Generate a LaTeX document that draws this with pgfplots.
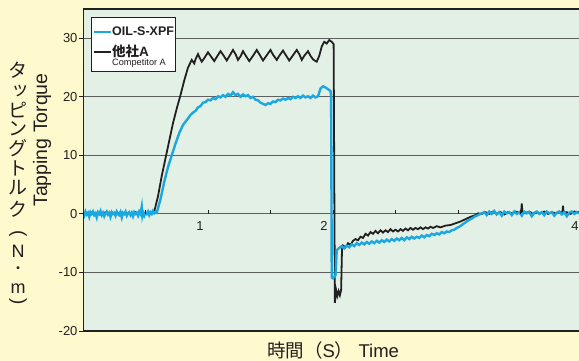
\documentclass[border=0pt]{standalone}
\usepackage{fontspec}
\setmainfont{Liberation Sans}
\newfontfamily\cjk{Noto Sans CJK JP}
\usepackage{graphicx}
\usepackage{pgfplots}
\pgfplotsset{compat=1.18}
\definecolor{bgy}{RGB}{255,249,206}
\definecolor{plotbg}{RGB}{226,240,229}
\definecolor{cyanl}{RGB}{27,167,224}
\definecolor{blk}{RGB}{35,31,32}
\definecolor{gridc}{RGB}{95,95,95}
\begin{document}
\begin{tikzpicture}
\path[use as bounding box] (0,0) rectangle (579pt,361pt);
\fill[bgy] (0,0) rectangle (579pt,361pt);
\begin{axis}[
 at={(83pt,30pt)}, anchor=south west,
 scale only axis, width=496pt, height=322pt,
 xmin=0, xmax=3.968, ymin=-20, ymax=35,
 axis background/.style={fill=plotbg},
 axis line style={draw=none},
 xtick=\empty,
 ytick={-20,-10,0,10,20,30},
 ytick pos=left,
 ymajorgrids, grid style={gridc, line width=0.9pt},
 tick style={draw=blk, line width=0.9pt},
 major tick length=4pt,
 tick align=outside,
 yticklabel style={font=\fontsize{13}{15}\selectfont, text=blk, xshift=2pt},
 /pgf/number format/assume math mode=true,
 clip mode=individual,
]
\addplot[blk, line width=1.8pt] coordinates {
(0.00,0.2) (0.03,-0.1) (0.06,0.3) (0.09,0.0) (0.12,0.2) (0.15,-0.2) (0.18,0.3) (0.21,0.0) (0.24,0.2) (0.27,-0.1)
(0.30,0.3) (0.33,0.0) (0.36,0.2) (0.39,-0.2) (0.42,0.3) (0.45,0.0) (0.48,0.2) (0.51,0.1) (0.54,0.3) (0.57,0.4)
(0.60,3.0) (0.63,6.5) (0.66,9.5) (0.69,12.5) (0.72,15.5) (0.75,18.0) (0.78,20.3) (0.81,22.8) (0.84,25.0)
(0.87,26.3) (0.89,25.7) (0.90,26.4) (0.92,27.3) (0.93,26.8) (0.95,26.0) (0.97,26.6) (1.00,27.6) (1.02,27.0)
(1.05,26.1) (1.07,26.8) (1.10,27.8) (1.12,27.2) (1.15,26.2) (1.17,26.9) (1.20,28.0) (1.22,27.3) (1.24,26.3)
(1.26,26.9) (1.28,27.8) (1.30,27.1) (1.33,26.1) (1.36,27.0) (1.39,28.0) (1.41,27.3) (1.44,26.2) (1.47,27.1)
(1.50,28.0) (1.52,27.2) (1.55,26.3) (1.57,27.0) (1.60,27.9) (1.62,27.2) (1.65,26.2) (1.68,27.1) (1.71,28.0)
(1.73,27.3) (1.75,26.3) (1.77,27.0) (1.80,27.8) (1.82,27.0) (1.84,26.4) (1.86,26.1) (1.87,26.0) (1.89,27.0)
(1.91,28.6) (1.93,29.4) (1.95,29.1) (1.97,29.7) (1.99,29.4) (2.005,29.0)
(2.015,-15.2) (2.025,-13.0) (2.035,-14.0) (2.045,-13.2) (2.055,-13.9) (2.065,-13.0) (2.072,-6.0)
(2.08,-5.4) (2.10,-5.7) (2.12,-5.0) (2.14,-5.3) (2.16,-4.6) (2.18,-4.3) (2.20,-4.5) (2.22,-3.9) (2.24,-4.1)
(2.26,-3.4) (2.28,-3.7) (2.30,-3.1) (2.32,-3.4) (2.34,-2.9) (2.36,-3.3) (2.38,-2.8) (2.40,-3.2) (2.42,-2.8)
(2.44,-3.1) (2.46,-2.6) (2.48,-3.0) (2.50,-2.7) (2.52,-3.0) (2.54,-2.6) (2.56,-2.9) (2.58,-2.5) (2.60,-2.8)
(2.62,-2.4) (2.64,-2.7) (2.66,-2.4) (2.68,-2.6) (2.70,-2.3) (2.72,-2.6) (2.74,-2.3) (2.76,-2.5) (2.78,-2.2)
(2.80,-2.4) (2.83,-2.1) (2.86,-2.3) (2.90,-2.0) (2.94,-1.9) (2.98,-1.6) (3.02,-1.3) (3.06,-0.9) (3.10,-0.5)
(3.14,-0.2) (3.16,0.1) (3.19,0.0) (3.22,0.3) (3.25,0.0) (3.28,0.4) (3.31,0.1) (3.34,0.3) (3.37,-0.1) (3.40,0.3)
(3.43,0.1) (3.46,0.4) (3.49,0.2) (3.505,0.3) (3.51,1.8) (3.515,0.3) (3.54,0.1) (3.57,0.4) (3.60,0.0) (3.63,0.3)
(3.66,0.1) (3.69,0.4) (3.72,0.0) (3.75,0.3) (3.78,0.1) (3.81,0.4) (3.835,0.2) (3.84,1.4) (3.845,0.2) (3.87,0.3)
(3.90,0.0) (3.93,0.4) (3.97,0.3)
};
\addplot[cyanl, line width=2.4pt] coordinates {
(0.00,0.1) (0.01,-0.3) (0.02,0.4) (0.03,-0.1) (0.04,0.2) (0.05,-0.5) (0.06,0.3) (0.07,0.0) (0.08,0.4) (0.09,-0.2)
(0.10,0.1) (0.11,-0.6) (0.12,0.3) (0.13,0.0) (0.14,0.5) (0.15,-0.2) (0.16,0.2) (0.17,-0.4) (0.18,0.1) (0.19,0.4)
(0.20,-0.1) (0.21,0.2) (0.22,-0.5) (0.23,0.3) (0.24,0.0) (0.25,0.2) (0.26,-0.3) (0.27,0.4) (0.28,0.0) (0.29,-0.2)
(0.30,0.3) (0.31,-0.6) (0.32,0.2) (0.33,0.0) (0.34,0.4) (0.35,-0.3) (0.36,0.1) (0.37,0.3) (0.38,-0.2) (0.39,0.2)
(0.40,-0.4) (0.41,0.3) (0.42,0.0) (0.43,0.2) (0.44,-0.3) (0.45,0.4) (0.46,0.0) (0.47,1.2) (0.475,-0.2) (0.48,0.3)
(0.49,-0.3) (0.50,0.2) (0.51,0.0) (0.52,0.4) (0.53,-0.2) (0.54,0.3) (0.55,0.0) (0.56,0.5) (0.57,0.1) (0.58,0.3)
(0.59,0.2) (0.62,2.5) (0.65,5.5) (0.68,8.0) (0.71,10.0) (0.74,12.0) (0.77,13.8) (0.80,15.2) (0.84,16.3)
(0.86,16.9) (0.88,17.3) (0.90,17.6) (0.92,18.2) (0.94,18.4) (0.96,19.0) (0.98,19.1) (1.00,19.5) (1.02,19.4)
(1.04,19.8) (1.06,19.6) (1.08,20.1) (1.10,19.9) (1.12,20.3) (1.14,20.0) (1.16,20.5) (1.18,20.2) (1.20,20.8)
(1.22,20.3) (1.24,20.5) (1.26,20.0) (1.28,20.4) (1.30,20.1) (1.32,20.3) (1.34,19.8) (1.36,20.0) (1.38,19.5)
(1.40,19.4) (1.42,19.0) (1.44,18.8) (1.46,18.6) (1.48,18.9) (1.50,18.8) (1.52,19.2) (1.54,19.1) (1.56,19.5)
(1.58,19.4) (1.60,19.7) (1.62,19.5) (1.64,19.8) (1.66,19.6) (1.68,20.0) (1.70,19.8) (1.72,20.1) (1.74,19.8)
(1.76,20.2) (1.78,19.9) (1.80,20.1) (1.82,19.8) (1.84,20.2) (1.86,19.9) (1.88,20.1) (1.90,21.4) (1.92,21.8)
(1.94,21.6) (1.96,21.3) (1.98,21.0) (1.985,20.0)
(1.99,-10.9) (2.00,-11.0) (2.02,-10.5) (2.03,-6.2) (2.05,-5.8) (2.07,-5.5) (2.09,-5.9) (2.11,-5.4) (2.13,-5.7)
(2.15,-5.2) (2.17,-5.5) (2.19,-5.0) (2.21,-5.3) (2.23,-4.9) (2.25,-5.2) (2.27,-4.8) (2.29,-5.1) (2.31,-4.7)
(2.33,-5.0) (2.35,-4.6) (2.37,-4.9) (2.39,-4.5) (2.41,-4.8) (2.43,-4.4) (2.45,-4.7) (2.47,-4.3) (2.49,-4.6)
(2.51,-4.2) (2.53,-4.5) (2.55,-4.1) (2.57,-4.5) (2.59,-4.0) (2.61,-4.3) (2.63,-3.9) (2.65,-4.2) (2.67,-3.9)
(2.69,-4.1) (2.71,-3.7) (2.73,-4.0) (2.75,-3.6) (2.77,-3.8) (2.79,-3.4) (2.81,-3.6) (2.83,-3.3) (2.85,-3.5)
(2.87,-3.1) (2.89,-3.3) (2.91,-3.0) (2.93,-3.1) (2.95,-2.8) (2.97,-2.7) (2.99,-2.4) (3.01,-2.2) (3.03,-1.9)
(3.05,-1.6) (3.07,-1.3) (3.09,-1.0) (3.11,-0.8) (3.13,-0.5) (3.15,-0.3) (3.17,-0.1) (3.19,0.1)
(3.21,0.3) (3.23,-0.2) (3.25,0.4) (3.27,0.0) (3.29,0.5) (3.31,-0.1) (3.33,0.3) (3.35,-0.3) (3.37,0.4) (3.39,0.1)
(3.41,0.3) (3.43,-0.2) (3.45,0.4) (3.47,0.0) (3.49,0.3) (3.51,-0.3) (3.53,0.4) (3.55,0.1) (3.57,0.3) (3.59,-0.4)
(3.61,0.2) (3.63,0.4) (3.65,0.0) (3.67,0.3) (3.69,-0.2) (3.71,0.4) (3.73,0.1) (3.75,0.3) (3.77,-0.3) (3.79,0.2)
(3.81,0.4) (3.83,-0.1) (3.85,0.3) (3.87,-0.4) (3.89,0.2) (3.91,0.4) (3.93,0.0) (3.95,0.3) (3.97,0.1)
};
% x ticks on the zero line
\draw[blk, line width=0.9pt] (axis cs:0.5,0) -- ([yshift=4pt]axis cs:0.5,0);
\draw[blk, line width=0.9pt] (axis cs:1.0,0) -- ([yshift=4pt]axis cs:1.0,0);
\draw[blk, line width=0.9pt] (axis cs:1.5,0) -- ([yshift=4pt]axis cs:1.5,0);
\draw[blk, line width=0.9pt] (axis cs:2.0,0) -- ([yshift=4pt]axis cs:2.0,0);
\draw[blk, line width=0.9pt] (axis cs:2.5,0) -- ([yshift=4pt]axis cs:2.5,0);
\draw[blk, line width=0.9pt] (axis cs:3.0,0) -- ([yshift=4pt]axis cs:3.0,0);
\draw[blk, line width=0.9pt] (axis cs:3.5,0) -- ([yshift=4pt]axis cs:3.5,0);
\node[font=\fontsize{13}{15}\selectfont, text=blk] at ([xshift=-8pt,yshift=-12pt]axis cs:1,0) {1};
\node[font=\fontsize{13}{15}\selectfont, text=blk] at ([xshift=-9pt,yshift=-12pt]axis cs:2,0) {2};
\node[font=\fontsize{13}{15}\selectfont, text=blk] at ([xshift=-8pt,yshift=-12pt]axis cs:4,0) {4};
\end{axis}
% frame
\draw[blk, line width=1.4pt] (83pt,352pt) -- (579pt,352pt);
\draw[blk, line width=1.0pt] (83pt,30pt) -- (83pt,352pt);
\draw[blk, line width=1.2pt] (83pt,30pt) -- (579pt,30pt);
% legend
\draw[blk, line width=0.9pt, fill=white] (91pt,290pt) rectangle (175pt,344pt);
\draw[cyanl, line width=2.4pt] (94pt,329pt) -- (111pt,329pt);
\draw[blk, line width=2.0pt] (94pt,309pt) -- (111pt,309pt);
\node[anchor=west, inner sep=0pt, font=\bfseries\fontsize{12.5}{14}\selectfont, text=blk] at (112pt,330pt) {OIL-S-XPF};
\node[anchor=west, inner sep=0pt, font=\fontsize{13.5}{15}\selectfont, text=blk] at (112pt,310pt) {{\cjk\bfseries 他社}\textbf{A}};
\node[anchor=west, inner sep=0pt, font=\fontsize{9.2}{11}\selectfont, text=blk] at (112pt,298pt) {Competitor A};
% axis titles
\node[anchor=base, inner sep=0pt, font=\fontsize{18.5}{21}\selectfont, text=blk] at (333pt,3.5pt) {{\cjk 時間（}S{\cjk ）} Time};
\node[rotate=90, font=\fontsize{19.5}{22}\selectfont, text=blk] at (42pt,221pt) {Tapping Torque};
\begin{scope}[every node/.style={inner sep=0pt, text=blk, font=\cjk\fontsize{19}{21}\selectfont}]
\node at (18pt,291pt) {タ};
\node[font=\cjk\fontsize{18}{20}\selectfont] at (21pt,270pt) {ッ};
\node at (18pt,251pt) {ピ};
\node at (18pt,232pt) {ン};
\node at (18pt,213pt) {グ};
\node at (18pt,193pt) {ト};
\node at (18pt,173pt) {ル};
\node at (18pt,152pt) {ク};
\node[font=\fontsize{19}{21}\selectfont] at (18pt,127pt) {\rotatebox{-90}{(}};
\node[font=\fontsize{18}{20}\selectfont] at (18pt,110pt) {N};
\node[font=\cjk\fontsize{14}{16}\selectfont] at (18pt,90.5pt) {・};
\node[font=\fontsize{18}{20}\selectfont] at (18pt,72pt) {m};
\node[font=\fontsize{19}{21}\selectfont] at (18pt,59pt) {\rotatebox{-90}{)}};
\end{scope}
\end{tikzpicture}
\end{document}
